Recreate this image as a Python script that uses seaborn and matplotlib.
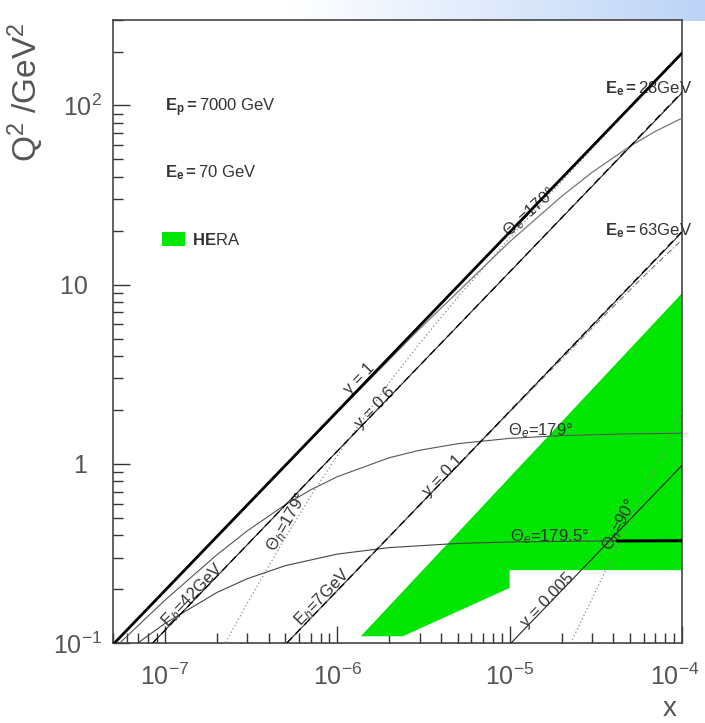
import numpy as np
import pandas as pd
import matplotlib
matplotlib.use("Agg")
import matplotlib.pyplot as plt
import matplotlib.transforms as mtransforms
import seaborn as sns
from matplotlib.patches import Patch
from matplotlib.ticker import FixedLocator, FixedFormatter, NullFormatter, LogLocator

# ---------------- data ----------------
# constant-y lines  (x, Q^2 end points)
x_y1 = [5.1e-8, 1e-4];    q2_y1 = [0.1, 196.0]
x_y06 = [8.5e-8, 1e-4];   q2_y06 = [0.1, 117.6]
x_y01 = [5.1e-7, 1e-4];   q2_y01 = [0.1, 19.6]
x_y0005 = [1.02e-5, 1e-4]; q2_y0005 = [0.1, 0.98]

# scattered electron energy lines (dashed)
x_ee28 = [8.5e-8, 1e-5, 1e-4];  q2_ee28 = [0.1, 11.77, 118.8]
x_ee63 = [5.1e-7, 1e-5, 1e-4];  q2_ee63 = [0.1, 1.962, 19.8]

# hadron energy E_h = 7 GeV
x_eh7 = [5.1e-7, 1e-5, 3e-5, 5e-5, 7e-5, 1e-4]
q2_eh7 = [0.1, 1.942, 5.72, 9.36, 12.85, 17.8]

# electron angle curves
x_the170 = [5e-8, 1e-7, 1e-6, 3e-6, 1e-5, 2e-5, 3e-5, 5e-5, 7e-5, 1e-4]
q2_the170 = [0.0979, 0.1957, 1.935, 5.659, 17.34, 31.08, 42.25, 59.29, 71.68, 84.98]

x_the179 = [5e-8, 1e-7, 2e-7, 3e-7, 5e-7, 7e-7, 1e-6, 2e-6, 3e-6, 5e-6, 1e-5, 2e-5, 5e-5, 1e-4]
q2_the179 = [0.0920, 0.1733, 0.3104, 0.4219, 0.5916, 0.7149, 0.8473, 1.0810, 1.1904,
             1.2953, 1.3870, 1.4378, 1.4702, 1.4813]

x_the1795 = [7e-8, 1e-7, 2e-7, 3e-7, 5e-7, 1e-6, 2e-6, 5e-6, 1e-5, 3e-5, 1e-4]
q2_the1795 = [0.1003, 0.1285, 0.1912, 0.2283, 0.2702, 0.3135, 0.3407, 0.3595, 0.3662,
              0.3708, 0.3724]

# thick segment on theta_e = 179.5
x_seg = [4.2e-5, 1e-4]; q2_seg = [0.371, 0.3724]

# hadron angle curves (dotted)
x_thh179 = [2.25e-7, 3e-7, 5e-7, 7e-7, 1e-6, 2e-6, 3e-6, 5e-6, 1e-5, 2e-5, 5e-5, 1e-4]
q2_thh179 = [0.1006, 0.1662, 0.3884, 0.6571, 1.1126, 2.839, 4.690, 8.505, 18.21, 37.76,
             96.53, 194.5]
x_thh90 = [2.26e-5, 3e-5, 4e-5, 5e-5, 7e-5, 1e-4]
q2_thh90 = [0.1, 0.1759, 0.3124, 0.4876, 0.9537, 1.9406]

# HERA region polygon
hera_x = [1.37e-6, 2.4e-6, 1e-5, 1e-5, 1e-4, 1e-4]
hera_q2 = [0.109, 0.109, 0.203, 0.255, 0.255, 8.95]

# tick labels
xticks = [1e-7, 1e-6, 1e-5, 1e-4]
xticklabels = [r"$10^{-7}$", r"$10^{-6}$", r"$10^{-5}$", r"$10^{-4}$"]
yticks = [0.1, 1, 10, 100]
yticklabels = [r"$10^{-1}$", "1  ", "10  ", r"$10^{2}$"]

# ---------------- style ----------------
sns.set_theme(style="ticks")
plt.rcParams["font.family"] = ["Liberation Sans", "DejaVu Sans"]
plt.rcParams["mathtext.fontset"] = "custom"
plt.rcParams["mathtext.rm"] = "Liberation Sans"
plt.rcParams["mathtext.it"] = "Liberation Sans:italic"
plt.rcParams["mathtext.bf"] = "Liberation Sans:bold"

fig = plt.figure(figsize=(7.05, 7.23), dpi=100)
fig.patch.set_facecolor("white")

# decorative top band
band = fig.add_axes([290 / 705, 1 - 21 / 723, 415 / 705, 21 / 723])
grad = np.linspace(0, 1, 256)
c0 = np.array([1.0, 1.0, 1.0]); c1 = np.array([0.74, 0.83, 0.97])
img = c0[None, :] * (1 - grad[:, None]) + c1[None, :] * grad[:, None]
band.imshow(img[None, :, :], aspect="auto", extent=[0, 1, 0, 1])
band.axis("off")

ax = fig.add_axes([113 / 705, 1 - 643 / 723, 569 / 705, 623 / 723])
ax.set_xscale("log"); ax.set_yscale("log")

# HERA region
ax.fill(hera_x, hera_q2, color="#00e600", lw=0, zorder=1)

def line(xs, ys, **kw):
    df = pd.DataFrame({"x": xs, "q2": ys})
    sns.lineplot(data=df, x="x", y="q2", ax=ax, estimator=None, sort=False, **kw)

line(x_y1, q2_y1, color="black", lw=2.0, zorder=5)
line(x_the170, q2_the170, color="#777777", lw=0.9, zorder=3)
line(x_y06, q2_y06, color="#222222", lw=0.8, zorder=3)
line(x_ee28, q2_ee28, color="black", lw=0.9, linestyle=(0, (6, 4)), zorder=4)
line(x_y01, q2_y01, color="#222222", lw=0.8, zorder=3)
line(x_ee63, q2_ee63, color="black", lw=0.9, linestyle=(0, (6, 4)), zorder=4)
line(x_eh7, q2_eh7, color="#777777", lw=0.8, linestyle=(0, (5, 2, 1, 2)), zorder=3)
line(x_y0005, q2_y0005, color="#222222", lw=0.8, zorder=3)
line(x_the179, q2_the179, color="#555555", lw=0.8, zorder=3)
line(x_the1795, q2_the1795, color="#444444", lw=0.8, zorder=3)
line(x_seg, q2_seg, color="black", lw=2.2, zorder=5)
line(x_thh179, q2_thh179, color="#888888", lw=0.9, linestyle=(0, (1, 2)), zorder=3)
line(x_thh90, q2_thh90, color="#888888", lw=0.9, linestyle=(0, (1, 2)), zorder=3)

ax.set_xlim(5e-8, 1e-4)
ax.set_ylim(0.1, 300)

ax.xaxis.set_major_locator(FixedLocator(xticks))
ax.xaxis.set_major_formatter(FixedFormatter(xticklabels))
ax.yaxis.set_major_locator(FixedLocator(yticks))
ax.yaxis.set_major_formatter(FixedFormatter(yticklabels))
for a in (ax.xaxis, ax.yaxis):
    a.set_minor_locator(LogLocator(base=10, subs=np.arange(2, 10), numticks=20))
    a.set_minor_formatter(NullFormatter())

ax.tick_params(which="both", direction="in", top=False, right=False,
               color="#333333", width=1.0)
ax.tick_params(which="major", length=12, labelsize=18, labelcolor="#555555", pad=8)
ax.tick_params(which="minor", length=7)
ax.tick_params(axis="x", which="major", pad=15)
for s in ax.spines.values():
    s.set_color("#444444"); s.set_linewidth(1.2); s.set_visible(True)

# keep the last x tick label inside the figure
fig.canvas.draw()
last = ax.get_xticklabels()[-1]
last.set_transform(last.get_transform() +
                   mtransforms.ScaledTranslation(-5 / 72, 0, fig.dpi_scale_trans))

ax.set_xlabel("x", fontsize=20, color="#555555")
ax.xaxis.set_label_coords(0.978, -0.085)
ax.set_ylabel(r"Q$^2$ /GeV$^2$", fontsize=24, color="#555555")
ax.yaxis.set_label_coords(-0.118, 0.884)

# top-left info
tc = "#333333"
ax.text(0.0914, 0.8587, r"$\mathbf{E_p=}$7000 GeV", transform=ax.transAxes,
        fontsize=12, color=tc, va="center", ha="left")
ax.text(0.0914, 0.7544, r"$\mathbf{E_e=}$70 GeV", transform=ax.transAxes,
        fontsize=12, color=tc, va="center", ha="left")
ax.legend(handles=[Patch(facecolor="#00e600", edgecolor="none", label=r"$\mathbf{HE}$RA")],
          loc="center left", bbox_to_anchor=(0.059, 0.647), frameon=False,
          fontsize=12, handlelength=1.4, handleheight=0.9, handletextpad=0.4,
          labelcolor=tc)

# curve labels
lab = dict(fontsize=12, color="#333333", ha="center", va="center")
ax.text(1.35e-6, 3.0, "y = 1", rotation=46, **lab)
ax.text(1.65e-6, 2.05, "y = 0.6", rotation=46, **lab)
ax.text(4.09e-6, 0.854, "y = 0.1", rotation=46, **lab)
ax.text(1.66e-5, 0.174, "y = 0.005", rotation=46, **lab)
ax.text(1.45e-7, 0.185, r"E$_h$=42GeV", rotation=46, **lab)
ax.text(8.24e-7, 0.180, r"E$_h$=7GeV", rotation=46, **lab)
ax.text(5.1e-7, 0.473, r"$\Theta_h$=179°", rotation=60, **lab)
ax.text(4.34e-5, 0.455, r"$\Theta_h$=90°", rotation=62, **lab)
ax.text(1.32e-5, 25.3, r"$\Theta_e$=170°", rotation=42, **lab)
ax.text(1.51e-5, 1.54, r"$\Theta_e$=179°", **lab)
ax.text(1.71e-5, 0.39, r"$\Theta_e$=179.5°", **lab)
ax.text(3.56e-5, 124.5, r"$\mathbf{E_e=}$28GeV", fontsize=12, color="#333333",
        ha="left", va="center")
ax.text(3.56e-5, 20.1, r"$\mathbf{E_e=}$63GeV", fontsize=12, color="#333333",
        ha="left", va="center")

fig.savefig("out.png", dpi=100)
